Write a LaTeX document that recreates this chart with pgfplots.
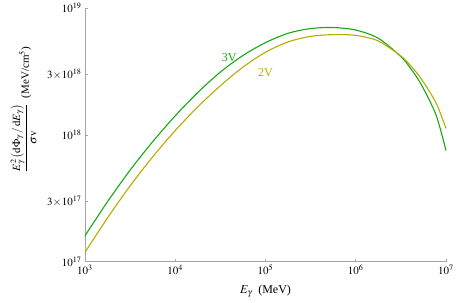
\documentclass[border=0pt]{standalone}
\usepackage{mathptmx}
\usepackage{fontspec}
\setmainfont{Liberation Serif}
\usepackage{pgfplots}
\pgfplotsset{compat=1.18}
\definecolor{cg}{RGB}{20,170,20}
\definecolor{cy}{RGB}{185,170,0}
\definecolor{axgray}{RGB}{165,165,165}
\begin{document}
\begin{tikzpicture}
\begin{axis}[
 scale only axis, width=361pt, height=253.4pt,
 xmode=log, ymode=log,
 xmin=1e3, xmax=1e7, ymin=1e17, ymax=1e19,
 axis x line*=bottom, axis y line*=left,
 axis line style={axgray, line width=0.6pt, -},
 every tick/.style={axgray, line width=0.6pt},
 tick align=inside, major tick length=3pt,
 xminorticks=false, yminorticks=false,
 xtick={1e3,1e4,1e5,1e6,1e7},
 xticklabels={$10^{3}$,$10^{4}$,$10^{5}$,$10^{6}$,$10^{7}$},
 ytick={1e17,3e17,1e18,3e18,1e19},
 yticklabels={$10^{17}$,$3\!\times\!10^{17}$,$10^{18}$,$3\!\times\!10^{18}$,$10^{19}$},
 tick label style={font=\fontsize{11}{13}\selectfont, black},
 xlabel={$E_\gamma$\ \ (MeV)},
 xlabel style={at={(axis description cs:0.5,-0.116)}, anchor=center, font=\fontsize{12}{14}\selectfont},
 clip=false,
]
\addplot[cg, line width=1.1pt, smooth] coordinates {
(1000,1.603e17) (1778.3,2.979e17) (3162.3,5.278e17) (5623.4,8.861e17)
(10000,1.417e18) (17782.8,2.165e18) (31622.8,3.137e18) (56234.1,4.241e18)
(100000,5.358e18) (177828,6.346e18) (316228,6.918e18) (562341,7.047e18)
(1000000,6.730e18) (1778279,5.800e18) (3162278,4.153e18) (3981072,3.411e18)
(5011872,2.687e18) (6309573,1.984e18) (7943282,1.372e18) (10000000,7.542e17)
};
\addplot[cy, line width=1.1pt, smooth] coordinates {
(1000,1.186e17) (1778.3,2.218e17) (3162.3,3.967e17) (5623.4,6.722e17)
(10000,1.085e18) (17782.8,1.669e18) (31622.8,2.446e18) (56234.1,3.432e18)
(100000,4.498e18) (177828,5.426e18) (316228,6.000e18) (562341,6.194e18)
(1000000,6.109e18) (1778279,5.513e18) (3162278,4.201e18) (3981072,3.573e18)
(5011872,2.944e18) (6309573,2.304e18) (7943282,1.728e18) (10000000,1.128e18)
};
\node[cg, font=\fontsize{12}{14}\selectfont] at (axis cs:39500,4.09e18) {3V};
\node[cy, font=\fontsize{12}{14}\selectfont] at (axis cs:100000,3.08e18) {2V};
\node[rotate=90, font=\fontsize{11}{13}\selectfont] at (axis description cs:-0.170,0.599)
 {$\displaystyle\frac{E_\gamma^2\left(\mathrm{d}\Phi_\gamma\,/\,\mathrm{d}E_\gamma\right)}{\sigma\mathrm{v}}$\ \ (MeV/cm$^5$)};
\end{axis}
\pgfresetboundingbox
\path (current axis.south west) ++(-85pt,-40.3pt) coordinate (bbsw);
\path (current axis.north east) ++(11pt,8.3pt) coordinate (bbne);
\useasboundingbox (bbsw) rectangle (bbne);
\end{tikzpicture}
\end{document}
